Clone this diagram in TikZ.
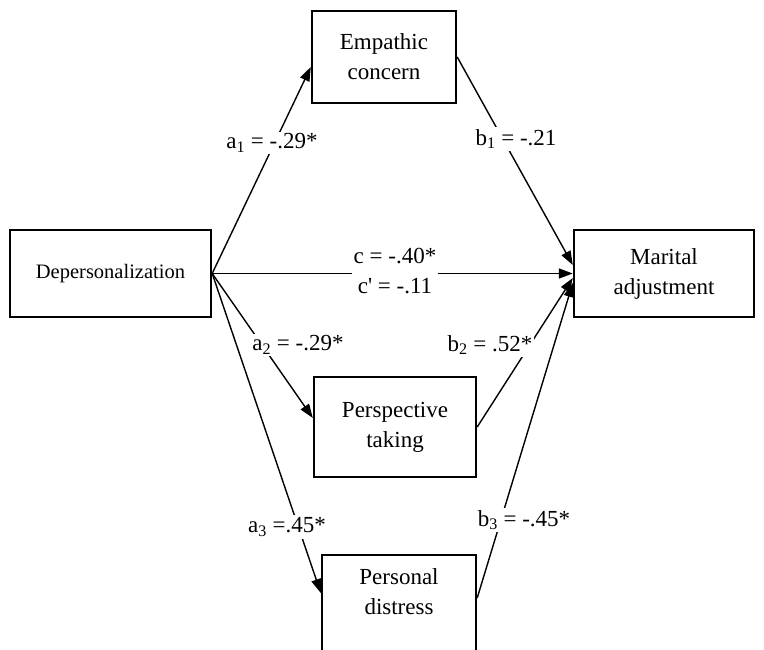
\documentclass[tikz,border=0pt]{standalone}
\usepackage{fontspec}
\setmainfont{Liberation Serif}
\usetikzlibrary{arrows.meta,positioning,calc}

\begin{document}
\begin{tikzpicture}[
    x=1pt,y=-1pt,
    font=\fontsize{23}{30}\selectfont,
    varbox/.style={draw=black,line width=2.4pt,align=center,inner sep=0pt},
    coef/.style={fill=white,inner sep=2pt,align=center},
    path/.style={-{Triangle[length=14pt,width=10pt]},draw=black,line width=1.4pt}
  ]
    \useasboundingbox (0,0) rectangle (764,650);

    % variables
    \node[varbox,minimum width=201pt,minimum height=87pt,font=\fontsize{20.5}{26}\selectfont]
      (dep) at (110.5,273.5) {Depersonalization};
    \node[varbox,minimum width=144pt,minimum height=92pt] (emp) at (384,57) {Empathic\\concern};
    \node[varbox,minimum width=180pt,minimum height=87pt] (mar) at (664,273.5) {Marital\\adjustment};
    \node[varbox,minimum width=162pt,minimum height=100pt] (per) at (395,427) {Perspective\\taking};
    \node[varbox,minimum width=154pt,anchor=north,inner ysep=13pt,text depth=70pt]
      (dis) at (399,554) {Personal\\distress};

    % paths
    \draw[path] (dep.east) -- ($(emp.west)+(0,10)$);
    \draw[path] (emp.east) -- ($(mar.west)+(0,-8.5)$);
    \draw[path] (dep.east) -- (mar.west);
    \draw[path] (dep.east) -- ($(per.west)+(0,-9)$);
    \draw[path] (per.east) -- ($(mar.west)+(0,4.5)$);
    \draw[path] (dep.east) -- ($(dis.north west)+(0,39)$);
    \draw[path] ($(dis.north east)+(0,44)$) -- ($(mar.west)+(0,9.5)$);

    % coefficients
    \node[coef] (a1) at (272,143) {a\textsubscript{1} = -.29*};
    \node[coef] (b1) at (516,139) {b\textsubscript{1} = -.21};
    \node[coef] (c) at (395,271) {c = -.40*\\c\XeTeXglyph\XeTeXcharglyph"0027{} = -.11};
    \node[coef] (a2) at (298,345) {a\textsubscript{2} = -.29*};
    \node[coef] (b2) at (490,345) {b\textsubscript{2} = .52*};
    \node[coef] (a3) at (287,527) {a\textsubscript{3} =.45*};
    \node[coef] (b3) at (524,520) {b\textsubscript{3} = -.45*};
  \end{tikzpicture}
\end{document}
